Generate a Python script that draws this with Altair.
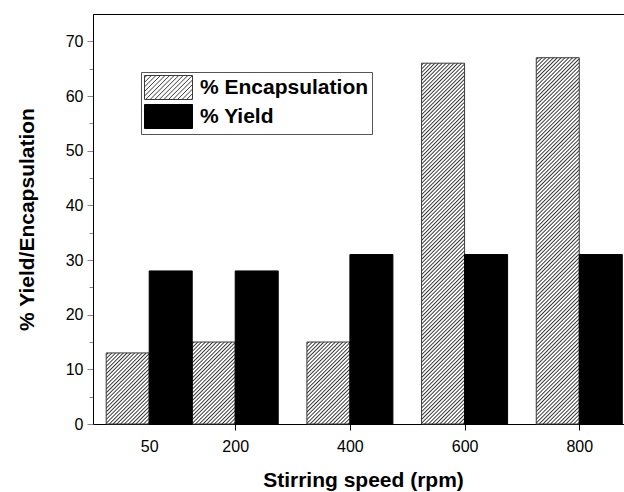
import math
import altair as alt
import pandas as pd

# ---- data ----
speeds = [50, 200, 400, 600, 800]
encapsulation = [13, 15, 15, 66, 67]
yield_pct = [28, 28, 31, 31, 31]
series_names = ["% Encapsulation", "% Yield"]
y_tick_values = list(range(0, 75, 5))
x_tick_values = [50, 200, 400, 600, 800]

# ---- layout / style ----
W_PLOT, H_PLOT = 531, 410
X_DOMAIN = [-48, 878]
Y_DOMAIN = [0, 75]
HALF = 75  # half group width in rpm units (each bar is HALF wide)
FONT = "Liberation Sans"

enc_df = pd.DataFrame({"speed": speeds, "value": encapsulation, "series": series_names[0]})
yld_df = pd.DataFrame({"speed": speeds, "value": yield_pct, "series": series_names[1]})

px_x = W_PLOT / (X_DOMAIN[1] - X_DOMAIN[0])
px_y = H_PLOT / (Y_DOMAIN[1] - Y_DOMAIN[0])


def hatch_gradient(w, h, period=2.7, dark="#333333", light="#ffffff"):
    """Diagonal '/' hatching as a repeating linear gradient in the bar's bounding box."""
    r = h / w
    a = (1 + r) / (1 + r * r)
    n = max(1, round((w + h) / math.sqrt(2) / period))
    stops = []
    for k in range(n):
        stops.append({"offset": round(k / n, 6), "color": light})
        stops.append({"offset": round((k + 0.15) / n, 6), "color": light})
        stops.append({"offset": round((k + 0.5) / n, 6), "color": dark})
        stops.append({"offset": round((k + 0.85) / n, 6), "color": light})
    stops.append({"offset": 1, "color": light})
    return {"gradient": "linear", "x1": 0, "y1": 0, "x2": a, "y2": a * r, "stops": stops}


def hatch_symbol(x0=-1.0, x1=3.0, y0=-1.0, y1=1.0, step=0.38):
    """Legend swatch: rectangle with '/' hatch lines (symbol units, 1 unit = 12px)."""
    parts = [f"M{x0},{y0}H{x1}V{y1}H{x0}Z"]
    c = x0 + y0 + step / 2
    while c < x1 + y1:
        xs = max(x0, c - y1)
        xe = min(x1, c - y0)
        if xe - xs > 1e-6:
            parts.append(f"M{xs:.3f},{c - xs:.3f}L{xe:.3f},{c - xe:.3f}")
        c += step
    return "".join(parts)


x_axis = alt.Axis(
    values=x_tick_values,
    title="Stirring speed (rpm)",
    format="d",
    grid=False,
    tickSize=6,
    tickColor={"condition": {"test": "datum.value == 50", "value": "transparent"}, "value": "black"},
    labelPadding=8,
    labelFontSize=16,
    labelOverlap=False,
    labelFlush=False,
    titleFontSize=21,
    titleFontWeight="bold",
    titlePadding=15,
    titleX=270,
)
y_axis = alt.Axis(
    values=y_tick_values,
    title="% Yield/Encapsulation",
    grid=False,
    labelExpr="datum.value % 10 == 0 ? datum.label : ''",
    tickSize={"condition": {"test": "datum.value % 10 != 0", "value": 4}, "value": 6},
    labelPadding=4,
    labelFontSize=16,
    titleFontSize=21,
    titleFontWeight="bold",
    titlePadding=28,
)

x_scale = alt.Scale(domain=X_DOMAIN, nice=False, zero=False)
y_scale = alt.Scale(domain=Y_DOMAIN, nice=False)

layers = []
for s, v in zip(speeds, encapsulation):
    grad = hatch_gradient(HALF * px_x, v * px_y)
    layers.append(
        alt.Chart(enc_df)
        .transform_filter(alt.datum.speed == s)
        .transform_calculate(x0=f"datum.speed - {HALF}", x1="datum.speed")
        .mark_bar(fill=grad, stroke="#3a3a3a", strokeWidth=1)
        .encode(
            x=alt.X("x0:Q", scale=x_scale, axis=x_axis),
            x2="x1:Q",
            y=alt.Y("value:Q", scale=y_scale, axis=y_axis),
            y2=alt.datum(0),
        )
    )

legend = alt.Legend(
    title=None,
    orient="none",
    legendX=48,
    legendY=58,
    symbolType=hatch_symbol(),
    symbolSize=576,
    symbolStrokeWidth=1,
    symbolOpacity=1,
    labelFont=FONT,
    labelFontSize=21,
    labelFontWeight="bold",
    labelColor="black",
    labelOffset=31,
    labelLimit=400,
    rowPadding=0,
    padding=3,
    strokeColor="#555555",
    fillColor="white",
)

yield_layer = (
    alt.Chart(yld_df)
    .transform_calculate(x0="datum.speed", x1=f"datum.speed + {HALF}")
    .mark_bar(strokeWidth=1, opacity=1)
    .encode(
        x=alt.X("x0:Q", scale=x_scale, axis=x_axis),
        x2="x1:Q",
        y=alt.Y("value:Q", scale=y_scale, axis=y_axis),
        y2=alt.datum(0),
        fill=alt.Fill("series:N", scale=alt.Scale(domain=series_names, range=["white", "black"]), legend=legend),
        stroke=alt.Stroke("series:N", scale=alt.Scale(domain=series_names, range=["#3a3a3a", "black"]), legend=legend),
    )
)
layers.append(yield_layer)

chart = (
    alt.layer(*layers)
    .properties(
        width=W_PLOT,
        height=H_PLOT,
        padding={"left": 93, "top": 14, "right": 0, "bottom": 68},
        autosize=alt.AutoSizeParams(type="none"),
        background="white",
    )
    .configure_view(stroke="black", strokeWidth=1)
    .configure_axis(
        labelFont=FONT,
        titleFont=FONT,
        labelColor="black",
        titleColor="black",
        domainColor="black",
        domainWidth=1,
        tickWidth=1,
    )
)

chart.save("out.html", embed_options={"renderer": "svg", "actions": False})
